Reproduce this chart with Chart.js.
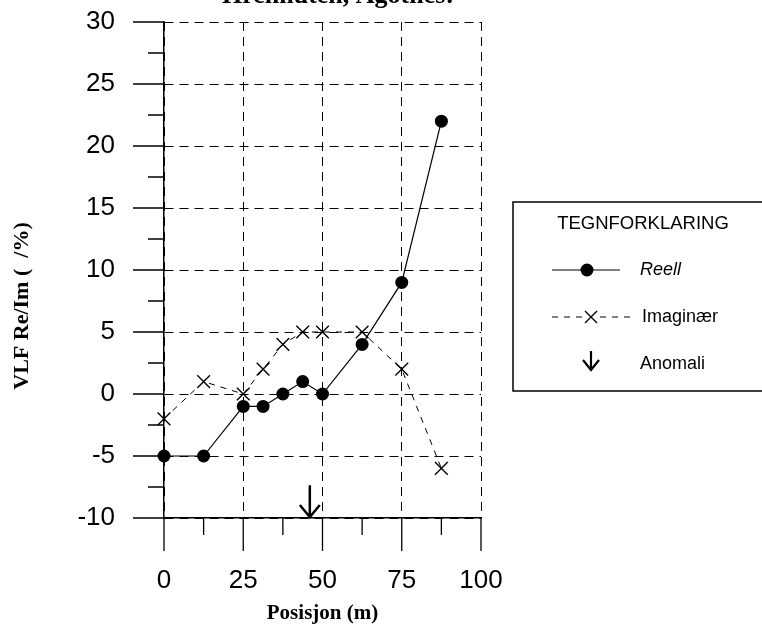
<!DOCTYPE html>
<html>
<head>
<meta charset="utf-8">
<title>VLF Re/Im</title>
<script src="https://cdn.jsdelivr.net/npm/chart.js@4.4.1/dist/chart.umd.min.js"></script>
<style>
  html, body { margin:0; padding:0; background:#fff; }
  canvas { display:block; }
</style>
</head>
<body>
<canvas id="vlf" width="762" height="628"></canvas>
<script>
// data
const position = [0, 12.5, 25, 31.25, 37.5, 43.75, 50, 62.5, 75, 87.5];
const reell = [-5, -5, -1, -1, 0, 1, 0, 4, 9, 22];
const imaginaer = [-2, 1, 0, 2, 4, 5, 5, 5, 2, -6];
const anomali = [46];

const xTicks = [0, 25, 50, 75, 100];
const xMinor = [12.5, 37.5, 62.5, 87.5];
const yTicks = [-10, -5, 0, 5, 10, 15, 20, 25, 30];
const yMinor = [-7.5, -2.5, 2.5, 7.5, 12.5, 17.5, 22.5, 27.5];

const titleText = "Hrennuten, Agotnes:";
const xTitle = "Posisjon (m)";
const yTitle = "VLF Re/Im (  /%)";
const legendTitle = "TEGNFORKLARING";
const legendLabels = ["Reell", "Imaginær", "Anomali"];

const SANS = "'Liberation Sans', Arial, sans-serif";
const SERIF = "'Liberation Serif', 'Times New Roman', serif";

function arrow(ctx, x, y0, y1, half, headH){
    ctx.beginPath();
    ctx.moveTo(x, y0);
    ctx.lineTo(x, y1);
    ctx.moveTo(x - half, y1 - headH);
    ctx.lineTo(x, y1);
    ctx.lineTo(x + half, y1 - headH);
    ctx.stroke();
}

/* tick marks, titles, arrow and the legend box */
const extras = {
    id: "extras",
    afterDraw(chart){
        const {ctx, chartArea: a, scales: {x, y}} = chart;
        ctx.save();
        ctx.strokeStyle = "#000";
        ctx.fillStyle = "#000";

        // ticks outside the axes
        ctx.lineWidth = 1.3;
        ctx.beginPath();
        xTicks.forEach(v => { const p = x.getPixelForValue(v); ctx.moveTo(p, a.bottom); ctx.lineTo(p, a.bottom + 33); });
        xMinor.forEach(v => { const p = x.getPixelForValue(v); ctx.moveTo(p, a.bottom); ctx.lineTo(p, a.bottom + 17); });
        yTicks.forEach(v => { const p = y.getPixelForValue(v); ctx.moveTo(a.left, p); ctx.lineTo(a.left - 31, p); });
        yMinor.forEach(v => { const p = y.getPixelForValue(v); ctx.moveTo(a.left, p); ctx.lineTo(a.left - 16, p); });
        ctx.stroke();

        // anomaly arrow
        ctx.lineWidth = 2.5;
        anomali.forEach(v => {
            arrow(ctx, x.getPixelForValue(v), y.getPixelForValue(-7.35), y.getPixelForValue(-10) - 1, 10, 12);
        });

        // title (cut at the top edge)
        ctx.font = "bold 26px " + SERIF;
        ctx.textAlign = "center";
        ctx.textBaseline = "alphabetic";
        ctx.fillText(titleText, 338, 3);

        // y axis title
        ctx.save();
        ctx.translate(22, 306);
        ctx.rotate(-Math.PI/2);
        ctx.font = "bold 22px " + SERIF;
        ctx.textBaseline = "middle";
        ctx.fillText(yTitle, 0, 0);
        ctx.restore();

        // legend
        ctx.lineWidth = 1.5;
        ctx.strokeRect(513, 202, 300, 189);
        ctx.font = "18.5px " + SANS;
        ctx.textAlign = "center";
        ctx.textBaseline = "middle";
        ctx.fillText(legendTitle, 643, 224);

        ctx.textAlign = "left";
        ctx.lineWidth = 1.2;
        ctx.beginPath(); ctx.moveTo(552, 270); ctx.lineTo(620, 270); ctx.stroke();
        ctx.beginPath(); ctx.arc(587, 270, 6.5, 0, Math.PI*2); ctx.fill();
        ctx.font = "italic 18px " + SANS;
        ctx.fillText(legendLabels[0], 640, 270);

        ctx.setLineDash([6, 6]);
        ctx.beginPath(); ctx.moveTo(552, 317); ctx.lineTo(630, 317); ctx.stroke();
        ctx.setLineDash([]);
        ctx.clearRect(583, 309, 16, 16);
        ctx.lineWidth = 1.4;
        ctx.beginPath();
        ctx.moveTo(585, 311); ctx.lineTo(597, 323);
        ctx.moveTo(597, 311); ctx.lineTo(585, 323);
        ctx.stroke();
        ctx.font = "18px " + SANS;
        ctx.fillText(legendLabels[1], 642, 317);

        ctx.lineWidth = 2.2;
        arrow(ctx, 591, 351, 370, 8, 10);
        ctx.fillText(legendLabels[2], 640, 364);

        ctx.restore();
    }
};

new Chart(document.getElementById("vlf"), {
    type: "line",
    data: {
        datasets: [{
            label: legendLabels[0],
            data: position.map((p, i) => ({x: p, y: reell[i]})),
            borderColor: "#000",
            borderWidth: 1.2,
            pointRadius: 6.5,
            pointBackgroundColor: "#000",
            pointBorderColor: "#000",
            pointBorderWidth: 0,
            tension: 0,
            clip: false
        }, {
            label: legendLabels[1],
            data: position.map((p, i) => ({x: p, y: imaginaer[i]})),
            borderColor: "#000",
            borderWidth: 1,
            borderDash: [6, 6],
            pointStyle: "crossRot",
            pointRadius: 9,
            pointBorderWidth: 1.4,
            pointBorderColor: "#000",
            tension: 0,
            clip: false
        }]
    },
    options: {
        responsive: false,
        animation: false,
        layout: {padding: {top: 22, right: 281, left: 0, bottom: 0}},
        plugins: {legend: {display: false}, tooltip: {enabled: false}},
        scales: {
            x: {
                type: "linear",
                min: 0, max: 100,
                afterBuildTicks: s => { s.ticks = xTicks.map(v => ({value: v})); },
                afterFit: s => { s.height = 110; },
                ticks: {color: "#000", padding: 0, font: {family: SANS, size: 26}},
                grid: {color: "#000", lineWidth: 1, drawTicks: true, tickLength: 47, tickWidth: 0},
                border: {display: true, color: "#000", width: 1.5, dash: [9, 6]},
                title: {display: true, text: xTitle, color: "#000",
                        font: {family: SERIF, size: 21, weight: "bold"},
                        padding: {top: 0, bottom: 2}}
            },
            y: {
                type: "linear",
                min: -10, max: 30,
                afterBuildTicks: s => { s.ticks = yTicks.map(v => ({value: v})); },
                afterFit: s => { s.width = 164; },
                ticks: {color: "#000", padding: 0, font: {family: SANS, size: 26}},
                grid: {color: "#000", lineWidth: 1, drawTicks: true, tickLength: 49, tickWidth: 0},
                border: {display: true, color: "#000", width: 1.5, dash: [9, 6]}
            }
        }
    },
    plugins: [extras]
});
</script>
</body>
</html>
